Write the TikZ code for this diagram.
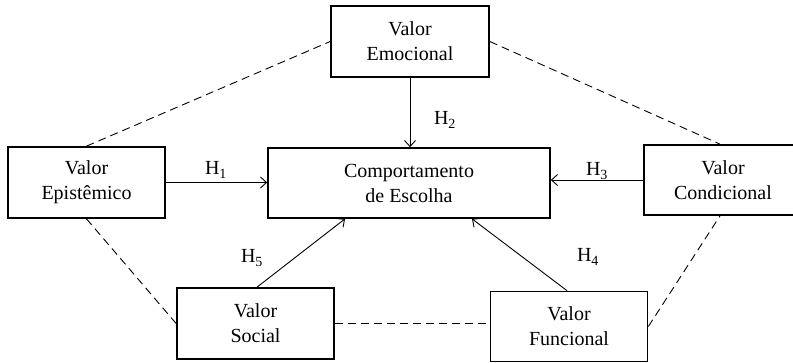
\documentclass[tikz,border=0pt]{standalone}
\usepackage{fontspec}
\setmainfont{Liberation Serif}
\usetikzlibrary{arrows.meta}
\begin{document}
\begin{tikzpicture}[x=1pt,y=-1pt,
  valuebox/.style={draw,line width=1.7pt,inner sep=0pt,align=center,
    font=\fontsize{20}{25}\selectfont,minimum height=71pt},
  dashlink/.style={line width=0.9pt,dash pattern=on 8pt off 5pt},
  hyparrow/.style={line width=0.9pt,-{Straight Barb[length=6pt,width=11pt]}},
  hyplabel/.style={font=\fontsize{20}{24}\selectfont,inner sep=0pt}]
  \useasboundingbox (0,0) rectangle (793,362);
  \clip (0,0) rectangle (793,362);

  % value dimensions and the central outcome
  \node[valuebox,minimum width=158pt] (emo)  at (410,41.5)  {Valor\\Emocional};
  \node[valuebox,minimum width=157pt] (epi)  at (86.5,182.5) {Valor\\Epistêmico};
  \node[valuebox,minimum width=282pt,minimum height=70pt] (comp) at (409,183) {Comportamento\\de Escolha};
  \node[valuebox,minimum width=158pt,minimum height=70pt] (cond) at (723,180) {Valor\\Condicional};
  \node[valuebox,minimum width=157pt] (soc)  at (255.5,323.5) {Valor\\Social};
  \node[valuebox,minimum width=157pt,minimum height=70pt] (fun)  at (569,326.5) {Valor\\Funcional};

  % dashed ring linking the values
  \draw[dashlink] (epi.north) -- (emo.west);
  \draw[dashlink] (emo.east) -- ([xshift=-3pt]cond.north);
  \draw[dashlink] (epi.south) -- (soc.west);
  \draw[dashlink] (soc.east) -- (soc.east -| fun.west);
  \draw[dashlink] (fun.east) -- ([xshift=-3pt]cond.south);

  % hypotheses
  \draw[hyparrow] (epi.east) -- (epi.east -| comp.west);
  \draw[hyparrow] (emo.south) -- (emo.south |- comp.north);
  \draw[hyparrow] (cond.west) -- (cond.west -| comp.east);
  \draw[hyparrow] ([xshift=-2pt]fun.north) -- ([xshift=63pt]comp.south);
  \draw[hyparrow] ([xshift=1.5pt]soc.north) -- ([xshift=-64pt]comp.south);

  \node[hyplabel] (h1) at (216,170) {H\textsubscript{1}};
  \node[hyplabel] (h2) at (445,120) {H\textsubscript{2}};
  \node[hyplabel] (h3) at (597,171) {H\textsubscript{3}};
  \node[hyplabel] (h4) at (588,257) {H\textsubscript{4}};
  \node[hyplabel] (h5) at (252,258) {H\textsubscript{5}};
\end{tikzpicture}
\end{document}
